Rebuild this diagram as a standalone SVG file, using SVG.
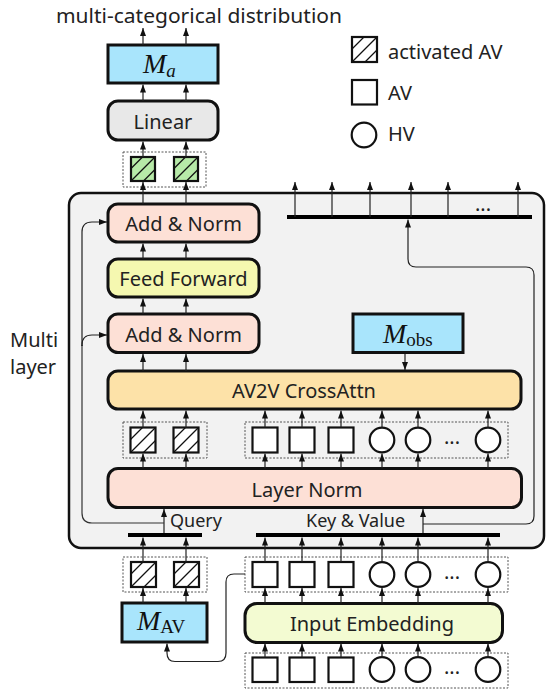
<svg xmlns="http://www.w3.org/2000/svg" xmlns:xlink="http://www.w3.org/1999/xlink" width="547" height="692" viewBox="0 0 547 692">
<style>
.t{font-family:"Noto Sans","DejaVu Sans",sans-serif;font-size:20px;fill:#222}
.lbl{font-family:"Noto Sans","DejaVu Sans",sans-serif;font-size:18px;fill:#222}
.m{font-family:"Liberation Serif","DejaVu Serif",serif;fill:#111}
.box{stroke:#111;stroke-width:3}
.tok{fill:#fff;stroke:#111;stroke-width:2.2}
.dash{fill:none;stroke:#555;stroke-width:1;stroke-dasharray:2 1.5}
.ar{fill:none;stroke:#222;stroke-width:1.2;marker-end:url(#ah)}
.ln{fill:none;stroke:#333;stroke-width:1.2}
.bar{stroke:#000;stroke-width:4}
.hl{stroke:#111;stroke-width:1.2}
</style>
<defs>
<marker id="ah" viewBox="0 0 8 6" refX="8" refY="3" markerWidth="8" markerHeight="6" markerUnits="userSpaceOnUse" orient="auto"><path d="M0,0 L8,3 L0,6 z" fill="#111"/></marker>
<g id="hatch"><line class="hl" x1="0" y1="12" x2="12" y2="0"/><line class="hl" x1="0" y1="25" x2="25" y2="0"/><line class="hl" x1="13" y1="25" x2="25" y2="13"/></g>
<g id="hatch24"><line class="hl" x1="0" y1="11.5" x2="11.5" y2="0"/><line class="hl" x1="0" y1="24" x2="24" y2="0"/><line class="hl" x1="12.5" y1="24" x2="24" y2="12.5"/></g>
</defs>

<!-- title -->
<text class="t" x="56" y="23" textLength="286" lengthAdjust="spacingAndGlyphs">multi-categorical distribution</text>

<!-- legend -->
<g id="legend">
<rect class="tok" x="352" y="37" width="25" height="25"/><use href="#hatch" x="352" y="37"/>
<text class="t" x="388" y="59">activated AV</text>
<rect class="tok" x="352" y="80" width="25" height="24.5"/>
<text class="t" x="388" y="100">AV</text>
<circle class="tok" cx="364" cy="135" r="12.3"/>
<text class="t" x="388" y="141">HV</text>
</g>

<!-- container -->
<g id="multilayer">
<rect x="69" y="193" width="475" height="355" rx="12" fill="#f2f2f2" stroke="#111" stroke-width="2.5"/>
<text class="t" x="10" y="347">Multi</text>
<text class="t" x="10" y="374">layer</text>
</g>

<g id="Ma"><rect class="box" x="108" y="45" width="110" height="38" fill="#a9e5fc"/>
<text class="m" x="143" y="73" font-size="28" font-style="italic">M<tspan font-size="19" dy="4">a</tspan></text></g>

<g id="linear"><rect class="box" x="108" y="101" width="110" height="39" rx="10" fill="#e8e8e8"/>
<text class="t" x="163" y="129" text-anchor="middle">Linear</text></g>

<g id="out-tokens">
<rect class="dash" x="123" y="152" width="83" height="35"/>
<rect x="131" y="157" width="24" height="24" fill="#b7eaa8" stroke="#111" stroke-width="2.2"/><use href="#hatch24" x="131" y="157"/>
<rect x="174" y="157" width="24" height="24" fill="#b7eaa8" stroke="#111" stroke-width="2.2"/><use href="#hatch24" x="174" y="157"/>
</g>

<g id="addnorm2"><rect class="box" x="108" y="204" width="151" height="38" rx="10" fill="#fde0d6"/>
<text class="t" x="183.5" y="231" text-anchor="middle">Add &amp; Norm</text></g>

<g id="ff"><rect class="box" x="108" y="259" width="151" height="38" rx="10" fill="#f5f8b0"/>
<text class="t" x="183.5" y="286" text-anchor="middle">Feed Forward</text></g>

<g id="addnorm1"><rect class="box" x="108" y="314" width="151" height="38.5" rx="10" fill="#fde0d6"/>
<text class="t" x="183.5" y="342" text-anchor="middle">Add &amp; Norm</text></g>

<g id="Mobs"><rect class="box" x="353" y="314" width="110" height="38.5" fill="#a9e5fc"/>
<text class="m" x="383" y="342.5" font-size="28"><tspan font-style="italic">M</tspan><tspan font-size="19" dy="3">obs</tspan></text></g>

<g id="crossattn"><rect class="box" x="108" y="371" width="413" height="38" rx="10" fill="#fde2a8"/>
<text class="t" x="304" y="398" text-anchor="middle">AV2V CrossAttn</text></g>

<g id="mid-tokens">
<rect class="dash" x="123" y="422" width="84" height="36"/>
<rect class="tok" x="130.5" y="427.5" width="25" height="25"/><use href="#hatch" x="130.5" y="427.5"/>
<rect class="tok" x="173.5" y="427.5" width="25" height="25"/><use href="#hatch" x="173.5" y="427.5"/>
<rect class="dash" x="245" y="422" width="263" height="36"/>
<rect class="tok" x="252.5" y="427.5" width="25" height="25"/>
<rect class="tok" x="289.5" y="427.5" width="25" height="25"/>
<rect class="tok" x="328.5" y="427.5" width="25" height="25"/>
<circle class="tok" cx="382" cy="440" r="12.3"/>
<circle class="tok" cx="418" cy="440" r="12.3"/>
<text class="t" x="452" y="444" font-size="15" text-anchor="middle">...</text>
<circle class="tok" cx="488" cy="440" r="12.3"/>
</g>

<g id="layernorm"><rect class="box" x="108" y="468.5" width="413.5" height="39" rx="10" fill="#fde0d6"/>
<text class="t" x="307" y="497" text-anchor="middle">Layer Norm</text></g>

<g id="labels">
<text class="lbl" x="170" y="527">Query</text>
<text class="lbl" x="306" y="527">Key &amp; Value</text>
</g>

<g id="bars">
<line class="bar" x1="287" y1="217" x2="532" y2="217"/>
<line class="bar" x1="128" y1="535" x2="202" y2="535"/>
<line class="bar" x1="256" y1="535" x2="500" y2="535"/>
<text class="t" x="483" y="211" font-size="15" text-anchor="middle">...</text>
</g>

<g id="bot-tokens">
<rect class="dash" x="123" y="557" width="84" height="35"/>
<rect class="tok" x="131" y="562" width="25" height="25"/><use href="#hatch" x="131" y="562"/>
<rect class="tok" x="174" y="562" width="25" height="25"/><use href="#hatch" x="174" y="562"/>
<rect class="dash" x="245" y="557" width="263" height="35"/>
<rect class="tok" x="252.5" y="562" width="25" height="25"/>
<rect class="tok" x="289.5" y="562" width="25" height="25"/>
<rect class="tok" x="328.5" y="562" width="25" height="25"/>
<circle class="tok" cx="382" cy="574.5" r="12.3"/>
<circle class="tok" cx="418" cy="574.5" r="12.3"/>
<text class="t" x="452" y="579" font-size="15" text-anchor="middle">...</text>
<circle class="tok" cx="488" cy="574.5" r="12.3"/>
</g>

<g id="MAV"><rect class="box" x="122" y="603" width="85" height="39" fill="#a9e5fc"/>
<text class="m" x="137" y="630" font-size="28"><tspan font-style="italic">M</tspan><tspan font-size="19" dy="3">AV</tspan></text></g>

<g id="inputemb"><rect class="box" x="245" y="603.5" width="257.5" height="39" rx="12" fill="#f3fbd2"/>
<text class="t" x="372" y="631" text-anchor="middle">Input Embedding</text></g>

<g id="in-tokens">
<rect class="dash" x="245" y="653" width="263" height="35"/>
<rect class="tok" x="252.5" y="657.5" width="25" height="24.5"/>
<rect class="tok" x="289.5" y="657.5" width="25" height="24.5"/>
<rect class="tok" x="328.5" y="657.5" width="25" height="24.5"/>
<circle class="tok" cx="382" cy="669.5" r="12.3"/>
<circle class="tok" cx="418" cy="669.5" r="12.3"/>
<text class="t" x="452" y="674" font-size="15" text-anchor="middle">...</text>
<circle class="tok" cx="488" cy="669.5" r="12.3"/>
</g>

<g id="connectors">
<!-- top stack -->
<path class="ar" d="M143,45V28"/><path class="ar" d="M186,45V28"/>
<path class="ar" d="M143,101V84.5"/><path class="ar" d="M186,101V84.5"/>
<path class="ar" d="M143,157V141.5"/><path class="ar" d="M186,157V141.5"/>
<path class="ar" d="M143,204V182"/><path class="ar" d="M186,204V182"/>
<path class="ar" d="M143,259V243.5"/><path class="ar" d="M186,259V243.5"/>
<path class="ar" d="M143,314V298.5"/><path class="ar" d="M186,314V298.5"/>
<path class="ar" d="M143,371V354"/><path class="ar" d="M186,371V354"/>
<path class="ar" d="M143,427.5V410.5"/><path class="ar" d="M186,427.5V410.5"/>
<path class="ar" d="M143,468.5V453.5"/><path class="ar" d="M186,468.5V453.5"/>
<!-- top bar outputs -->
<path class="ar" d="M295,217V182"/><path class="ar" d="M332,217V182"/><path class="ar" d="M370,217V182"/>
<path class="ar" d="M411,217V182"/><path class="ar" d="M448,217V182"/><path class="ar" d="M518,217V182"/>
<!-- M_obs -->
<path class="ar" d="M405,354V370"/>
<!-- token columns -->
<path class="ar" d="M265,427.5V410.5"/><path class="ar" d="M302,427.5V410.5"/><path class="ar" d="M341,427.5V410.5"/><path class="ar" d="M382,427.5V410.5"/><path class="ar" d="M418,427.5V410.5"/><path class="ar" d="M488,427.5V410.5"/>
<path class="ar" d="M265,468.5V453.5"/><path class="ar" d="M302,468.5V453.5"/><path class="ar" d="M341,468.5V453.5"/><path class="ar" d="M382,468.5V453.5"/><path class="ar" d="M418,468.5V453.5"/><path class="ar" d="M488,468.5V453.5"/>
<!-- query / kv -->
<path class="ar" d="M164,533V509"/>
<path class="ar" d="M423,533V509"/>
<path class="ln" d="M164,523H92Q82,523 82,513V345"/>
<path class="ar" d="M82,346V345Q82,335 92,335H107"/>
<path class="ar" d="M82,346V232Q82,222 92,222H107"/>
<path class="ar" d="M423,524H526Q534,524 534,516V275Q534,267 526,267H416Q408,267 408,259V219.5"/>
<!-- bottom -->
<path class="ar" d="M143,562V537.5"/><path class="ar" d="M186,562V537.5"/>
<path class="ar" d="M265,562V537.5"/><path class="ar" d="M302,562V537.5"/><path class="ar" d="M341,562V537.5"/><path class="ar" d="M382,562V537.5"/><path class="ar" d="M418,562V537.5"/><path class="ar" d="M488,562V537.5"/>
<path class="ar" d="M143,603V588"/><path class="ar" d="M186,603V588"/>
<path class="ar" d="M265,603.5V588"/><path class="ar" d="M302,603.5V588"/><path class="ar" d="M341,603.5V588"/><path class="ar" d="M382,603.5V588"/><path class="ar" d="M418,603.5V588"/><path class="ar" d="M488,603.5V588"/>
<path class="ar" d="M265,657.5V643.5"/><path class="ar" d="M302,657.5V643.5"/><path class="ar" d="M341,657.5V643.5"/><path class="ar" d="M382,657.5V643.5"/><path class="ar" d="M418,657.5V643.5"/><path class="ar" d="M488,657.5V643.5"/>
<path class="ar" d="M245,574H234Q226,574 226,582V653Q226,661.5 218,661.5H175Q167,661.5 167,653V643.5"/>
</g>
</svg>
